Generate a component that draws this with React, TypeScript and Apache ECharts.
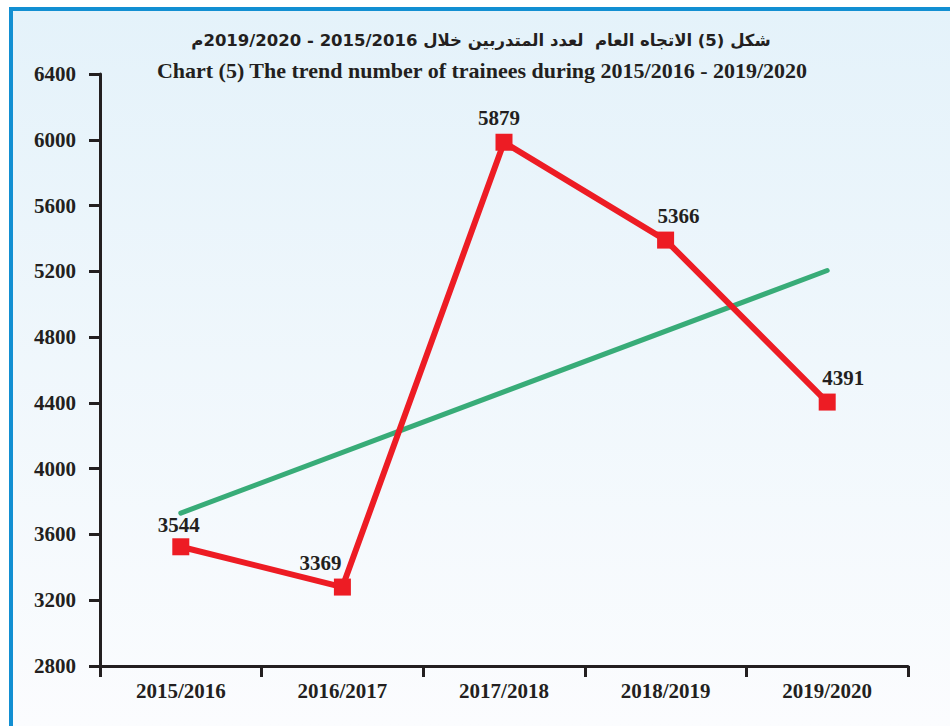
import React, { useEffect, useRef } from "react";
import * as echarts from "echarts";

const categories = ["2015/2016", "2016/2017", "2017/2018", "2018/2019", "2019/2020"];
// positions of the red markers as drawn in the picture
const traineePlotted = [3525, 3280, 5985, 5390, 4405];
// printed value labels
const traineeLabels = [3544, 3369, 5879, 5366, 4391];
// green trend line (start and end)
const trendValues = [3730, null, null, null, 5205];
const yTicks = { min: 2800, max: 6400, interval: 400 };

const titleAr = "شكل (5) الاتجاه العام  لعدد المتدربين خلال 2015/2016 - 2019/2020م";
const titleEn = "Chart (5) The trend number of trainees during 2015/2016 - 2019/2020";

const labelOffsets: [number, number][] = [[-2, 2], [-22, 0], [-5, 0], [13, 0], [16, 0]];

export default function App() {
  const ref = useRef<HTMLDivElement>(null);
  useEffect(() => {
    const chart = echarts.init(ref.current!, undefined, { renderer: "svg" });
    const font = "'Liberation Serif', 'Times New Roman', serif";
    chart.setOption({
      animation: false,
      backgroundColor: "#ffffff",
      graphic: [
        {
          type: "rect",
          z: -10,
          silent: true,
          shape: { x: 9, y: 7, width: 941, height: 719 },
          style: {
            fill: new echarts.graphic.LinearGradient(0, 0, 0, 1, [
              { offset: 0, color: "#e4f2fa" },
              { offset: 1, color: "#fbfcfe" },
            ]),
          },
        },
        { type: "rect", z: -5, silent: true, shape: { x: 9, y: 7, width: 941, height: 4 }, style: { fill: "#128fd2" } },
        { type: "rect", z: -5, silent: true, shape: { x: 9, y: 7, width: 4, height: 719 }, style: { fill: "#128fd2" } },
        {
          type: "text",
          x: 481,
          y: 40,
          style: {
            text: titleAr,
            font: "bold 16.5px 'DejaVu Sans', 'Noto Sans', sans-serif",
            fill: "#231f20",
            align: "center",
            verticalAlign: "middle",
          },
        },
        {
          type: "text",
          x: 482,
          y: 70,
          style: {
            text: titleEn,
            font: "bold 22px " + font,
            fill: "#231f20",
            align: "center",
            verticalAlign: "middle",
          },
        },
      ],
      grid: { left: 100, right: 42, top: 74, bottom: 60, containLabel: false },
      xAxis: {
        type: "category",
        data: categories,
        boundaryGap: true,
        axisLine: { lineStyle: { color: "#231f20", width: 3 } },
        axisTick: { show: true, length: 11, inside: false, lineStyle: { color: "#231f20", width: 3 } },
        axisLabel: { color: "#231f20", fontFamily: font, fontWeight: "bold", fontSize: 21, margin: 14 },
        splitLine: { show: false },
      },
      yAxis: {
        type: "value",
        min: yTicks.min,
        max: yTicks.max,
        interval: yTicks.interval,
        axisLine: { show: true, lineStyle: { color: "#231f20", width: 3 } },
        axisTick: { show: true, length: 11, lineStyle: { color: "#231f20", width: 3 } },
        axisLabel: {
          color: "#231f20",
          fontFamily: font,
          fontWeight: "bold",
          fontSize: 21,
          margin: 24,
          formatter: (v: number) => String(v),
        },
        splitLine: { show: false },
      },
      series: [
        {
          type: "line",
          data: trendValues,
          connectNulls: true,
          showSymbol: false,
          symbol: "none",
          lineStyle: { color: "#38ac78", width: 5, cap: "round" },
          z: 2,
        },
        {
          type: "line",
          data: traineePlotted.map((v, i) => ({
            value: v,
            label: {
              show: true,
              position: "top",
              offset: labelOffsets[i],
              formatter: String(traineeLabels[i]),
            },
          })),
          symbol: "rect",
          symbolSize: 17,
          itemStyle: { color: "#ed1c24" },
          lineStyle: { color: "#ed1c24", width: 6 },
          label: {
            color: "#231f20",
            fontFamily: font,
            fontWeight: "bold",
            fontSize: 21,
          },
          z: 3,
        },
      ],
    });
    return () => chart.dispose();
  }, []);
  return <div ref={ref} style={{ position: "fixed", left: 0, top: 0, width: 950, height: 726 }} />;
}
